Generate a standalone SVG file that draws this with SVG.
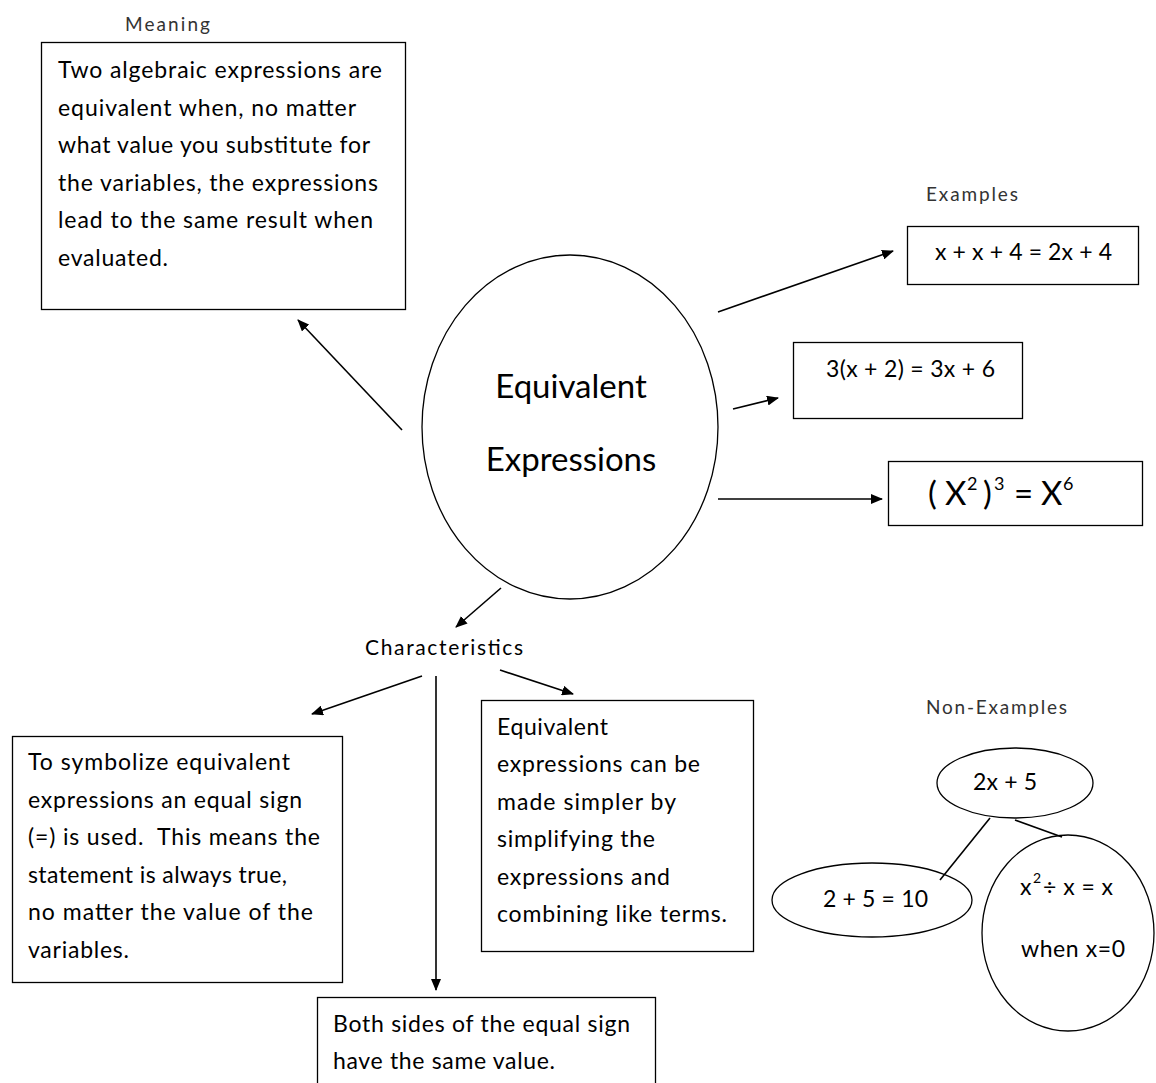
<svg xmlns="http://www.w3.org/2000/svg" width="1156" height="1083" viewBox="0 0 1156 1083">
<style>
  text { font-family: Lato, "Open Sans", "Liberation Sans", sans-serif; fill: #000; }
  .body { font-size: 23px; }
  .lbl { font-size: 19px; fill: #333; }
  .ex { font-size: 23px; }
  .box { fill: #fff; stroke: #000; stroke-width: 1.3; }
  .ell { fill: #fff; stroke: #000; stroke-width: 1.3; }
  .conn { stroke: #000; stroke-width: 1.6; fill: none; }
  .arr { marker-end: url(#ah); }
</style>
<defs>
  <marker id="ah" viewBox="0 0 12 10" refX="11" refY="5" markerWidth="12" markerHeight="10" markerUnits="userSpaceOnUse" orient="auto">
    <path d="M0,0 L12,5 L0,10 z" fill="#000"/>
  </marker>
</defs>
<rect width="1156" height="1083" fill="#fff"/>

<g id="meaning">
  <text class="lbl" x="125" y="31" textLength="85">Meaning</text>
  <rect class="box" x="41.5" y="42.5" width="364" height="267"/>
  <text class="body" x="58" y="78" textLength="324">Two algebraic expressions are</text>
  <text class="body" x="58" y="116" textLength="298">equivalent when, no matter</text>
  <text class="body" x="58" y="153" textLength="312">what value you substitute for</text>
  <text class="body" x="58" y="191" textLength="320">the variables, the expressions</text>
  <text class="body" x="58" y="228" textLength="315">lead to the same result when</text>
  <text class="body" x="58" y="266" textLength="110">evaluated.</text>
</g>

<g id="center">
  <ellipse class="ell" cx="570" cy="427" rx="148" ry="172"/>
  <text x="571" y="398" font-size="33" text-anchor="middle">Equivalent</text>
  <text x="571" y="471" font-size="33" text-anchor="middle">Expressions</text>
</g>

<g id="examples-label">
  <text class="lbl" x="926" y="201" textLength="92">Examples</text>
</g>

<g id="ex1">
  <rect class="box" x="907.5" y="226.5" width="231" height="58"/>
  <text class="ex" x="935" y="260" textLength="177">x + x + 4 = 2x + 4</text>
</g>

<g id="ex2">
  <rect class="box" x="793.5" y="342.5" width="229" height="76"/>
  <text class="ex" x="826" y="377" textLength="169">3(x + 2) = 3x + 6</text>
</g>

<g id="ex3">
  <rect class="box" x="888.5" y="461.5" width="254" height="64"/>
  <text font-size="33" y="505"><tspan x="928">(</tspan><tspan x="945">X</tspan><tspan x="967" y="490" font-size="18">2</tspan><tspan x="983" y="505">)</tspan><tspan x="994" y="490" font-size="18">3</tspan><tspan x="1014" y="505">=</tspan><tspan x="1041">X</tspan><tspan x="1063" y="490" font-size="18">6</tspan></text>
</g>

<g id="characteristics">
  <text x="365" y="655" font-size="21" textLength="158">Characteristics</text>
</g>

<g id="char1">
  <rect class="box" x="12.5" y="736.5" width="330" height="246"/>
  <text class="body" x="28" y="770" textLength="262">To symbolize equivalent</text>
  <text class="body" x="28" y="808" textLength="274">expressions an equal sign</text>
  <text class="body" x="28" y="845" textLength="292" xml:space="preserve">(=) is used.  This means the</text>
  <text class="body" x="28" y="883" textLength="259">statement is always true,</text>
  <text class="body" x="28" y="920" textLength="285">no matter the value of the</text>
  <text class="body" x="28" y="958" textLength="101">variables.</text>
</g>

<g id="char2">
  <rect class="box" x="481.5" y="700.5" width="272" height="251"/>
  <text class="body" x="497" y="735" textLength="111">Equivalent</text>
  <text class="body" x="497" y="772" textLength="203">expressions can be</text>
  <text class="body" x="497" y="810" textLength="179">made simpler by</text>
  <text class="body" x="497" y="847" textLength="158">simplifying the</text>
  <text class="body" x="497" y="885" textLength="173">expressions and</text>
  <text class="body" x="497" y="922" textLength="230">combining like terms.</text>
</g>

<g id="char3">
  <rect class="box" x="317.5" y="997.5" width="338" height="100"/>
  <text class="body" x="333" y="1032" textLength="297">Both sides of the equal sign</text>
  <text class="body" x="333" y="1069" textLength="222">have the same value.</text>
</g>

<g id="nonexamples-label">
  <text class="lbl" x="926" y="714" textLength="141">Non-Examples</text>
</g>

<g id="ne-root">
  <ellipse class="ell" cx="1015" cy="783" rx="78" ry="35"/>
  <text class="ex" x="973" y="790" font-size="22" textLength="64">2x + 5</text>
</g>

<g id="ne1">
  <ellipse class="ell" cx="872" cy="900" rx="100" ry="37"/>
  <text class="ex" x="823" y="907" textLength="105">2 + 5 = 10</text>
</g>

<g id="ne2">
  <ellipse class="ell" cx="1068" cy="933" rx="86" ry="98"/>
  <text class="ex" y="895"><tspan x="1020">x</tspan><tspan x="1033" y="883" font-size="14">2</tspan><tspan x="1043" y="895" textLength="70">÷ x = x</tspan></text>
  <text class="ex" x="1021" y="957" textLength="104">when x=0</text>
</g>

<g id="connectors">
  <line class="conn arr" x1="402" y1="430" x2="298" y2="320"/>
  <line class="conn arr" x1="718" y1="312" x2="893" y2="251"/>
  <line class="conn arr" x1="733" y1="409" x2="778" y2="398"/>
  <line class="conn arr" x1="718" y1="499" x2="882" y2="499"/>
  <line class="conn arr" x1="501" y1="588" x2="456" y2="627"/>
  <line class="conn arr" x1="422" y1="676" x2="312" y2="714"/>
  <line class="conn arr" x1="436" y1="676" x2="436" y2="990"/>
  <line class="conn arr" x1="500" y1="670" x2="573" y2="694"/>
  <line class="conn" x1="990" y1="818" x2="940" y2="880"/>
  <line class="conn" x1="1015" y1="820" x2="1062" y2="837"/>
</g>
</svg>
